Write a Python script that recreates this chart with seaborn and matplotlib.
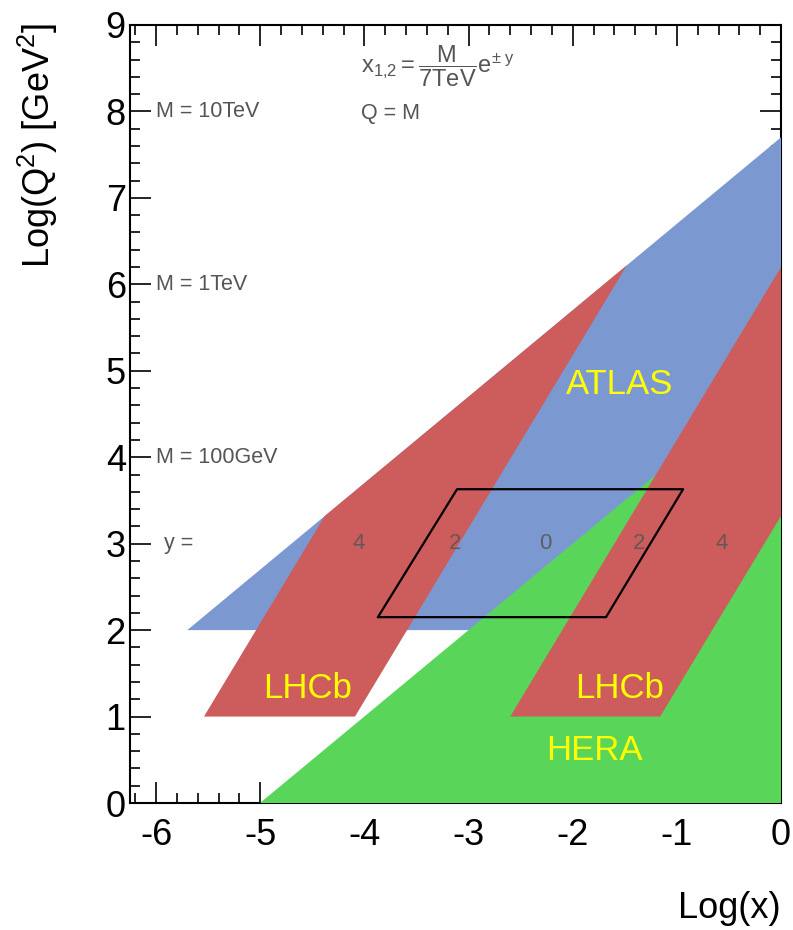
import matplotlib
matplotlib.use("Agg")
import matplotlib.pyplot as plt
import seaborn as sns
import pandas as pd
from matplotlib.ticker import MultipleLocator

sns.set_theme(style="ticks")
plt.rcParams['font.family'] = ['Liberation Sans', 'DejaVu Sans']
plt.rcParams['mathtext.fontset'] = 'custom'
plt.rcParams['mathtext.rm'] = 'Liberation Sans'
plt.rcParams['mathtext.it'] = 'Liberation Sans'
plt.rcParams['mathtext.bf'] = 'Liberation Sans:bold'

# ---- data (log10 x, log10 Q^2) ----
atlas_x = [-5.70, 0.00, 0.00]
atlas_y = [2.00, 7.70, 2.00]
hera_x = [-5.00, 0.00, 0.00]
hera_y = [0.00, 0.00, 5.00]
lhcb_left_x = [-5.54, -4.09, -1.48, -4.38]
lhcb_left_y = [1.00, 1.00, 6.22, 3.32]
lhcb_right_x = [-2.60, -1.16, 0.00, 0.00]
lhcb_right_y = [1.00, 1.00, 3.32, 6.20]
box_x = [-3.87, -3.11, -0.94, -1.68, -3.87]
box_y = [2.15, 3.63, 3.63, 2.15, 2.15]

mass_labels = ["M = 10TeV", "M = 1TeV", "M = 100GeV"]
mass_q2 = [8.0, 6.0, 4.0]
rap_labels = ["4", "2", "0", "2", "4"]
rap_x = [-4.05, -3.13, -2.26, -1.36, -0.57]
rap_y = 3.0

c_blue = "#7b99d0"
c_red = "#cd5c5c"
c_green = "#59d659"

fig = plt.figure(figsize=(7.93, 9.30), dpi=100)
ax = fig.add_axes([130/793, 1-803/930, (781-130)/793, (803-25)/930])
ax.set_xlim(-6.25, 0.0)
ax.set_ylim(0, 9)

ax.fill(atlas_x, atlas_y, color=c_blue, lw=0, zorder=3)
ax.fill(hera_x, hera_y, color=c_green, lw=0, zorder=3.1)
ax.fill(lhcb_left_x, lhcb_left_y, color=c_red, lw=0, zorder=3.2)
ax.fill(lhcb_right_x, lhcb_right_y, color=c_red, lw=0, zorder=3.2)

box = pd.DataFrame({"x": box_x, "y": box_y})
sns.lineplot(data=box, x="x", y="y", sort=False, estimator=None, color="black",
             lw=1.6, ax=ax, zorder=4)
ax.set_xlabel("")
ax.set_ylabel("")

grey = "#555555"
for lab, q in zip(mass_labels, mass_q2):
    ax.text(-6.0, q, lab, color=grey, fontsize=15.5, ha="left", va="center", zorder=5)
ax.text(-5.92, rap_y, "y =", color=grey, fontsize=15.5, ha="left", va="center", zorder=5)
for lab, xx in zip(rap_labels, rap_x):
    ax.text(xx, rap_y, lab, color=grey, fontsize=16, ha="center", va="center",
            zorder=5, alpha=0.85)

ax.text(-4.03, 8.52, r"$\mathrm{x_{1{,}2} = \dfrac{M}{7TeV}e^{\pm\ y}}$", color=grey,
        fontsize=17, ha="left", va="center", zorder=5)
ax.text(-4.03, 7.98, "Q = M", color=grey, fontsize=15.5, ha="left", va="center", zorder=5)

yellow = "#ffff00"
ax.text(-1.55, 4.84, "ATLAS", color=yellow, fontsize=25, ha="center", va="center", zorder=6)
ax.text(-4.55, 1.33, "LHCb", color=yellow, fontsize=25, ha="center", va="center", zorder=6)
ax.text(-1.55, 1.33, "LHCb", color=yellow, fontsize=25, ha="center", va="center", zorder=6)
ax.text(-1.79, 0.61, "HERA", color=yellow, fontsize=25, ha="center", va="center", zorder=6)

# axes styling (ROOT-like)
ax.xaxis.set_major_locator(MultipleLocator(1))
ax.xaxis.set_minor_locator(MultipleLocator(0.2))
ax.yaxis.set_major_locator(MultipleLocator(1))
ax.yaxis.set_minor_locator(MultipleLocator(0.2))
ax.tick_params(which="both", direction="in", top=True, right=True, color="black",
               labelcolor="black", width=1.2)
ax.tick_params(which="major", length=15)
ax.tick_params(which="minor", length=7.5)
ax.tick_params(axis="x", which="major", labelsize=26, pad=11)
ax.tick_params(axis="y", which="major", labelsize=26, pad=3)
ax.set_xticks([-6, -5, -4, -3, -2, -1, 0])
ax.set_xticklabels(["-6", "-5", "-4", "-3", "-2", "-1", "0"])
ax.set_yticks(range(10))
for s in ax.spines.values():
    s.set_linewidth(1.5)
    s.set_color("black")
    s.set_zorder(2)

fig.text(0.984, 1-908/930, "Log(x)", fontsize=26, ha="right", va="center", color="black")
fig.text(0.048, 0.975, r"Log(Q$^2$) [GeV$^2$]", fontsize=26, ha="center", va="top",
         rotation=90, color="black")

fig.savefig("out.png", dpi=100)
